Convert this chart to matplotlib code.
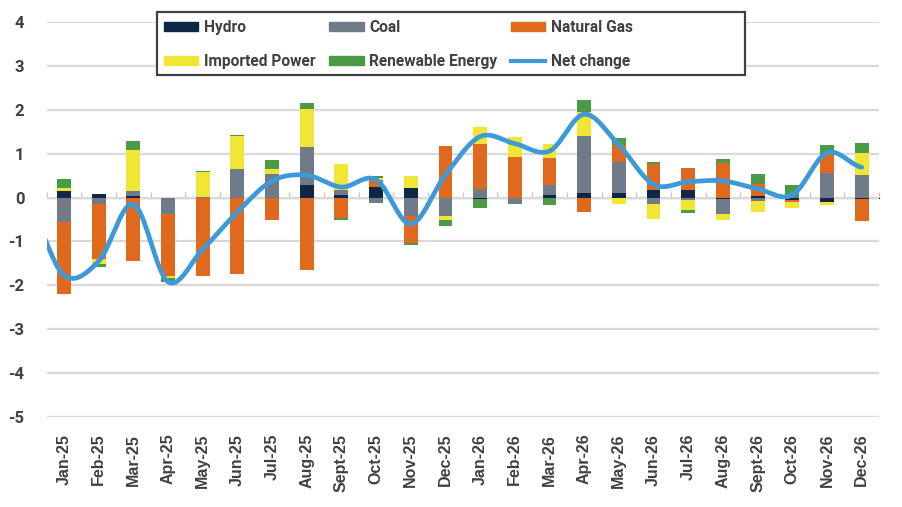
import numpy as np
import matplotlib
matplotlib.use('Agg')
from matplotlib import pyplot as plt
from matplotlib.patches import Patch, Rectangle
from matplotlib.lines import Line2D

plt.rcParams['axes.unicode_minus'] = False

months = ['Jan-25', 'Feb-25', 'Mar-25', 'Apr-25', 'May-25', 'Jun-25', 'Jul-25', 'Aug-25',
          'Sept-25', 'Oct-25', 'Nov-25', 'Dec-25', 'Jan-26', 'Feb-26', 'Mar-26', 'Apr-26',
          'May-26', 'Jun-26', 'Jul-26', 'Aug-26', 'Sept-26', 'Oct-26', 'Nov-26', 'Dec-26']

hydro = [0.14, 0.09, 0.03, 0.0, 0.0, 0.0, 0.0, 0.29, 0.06, 0.24, 0.22, 0.0,
         -0.03, 0.0, 0.07, 0.11, 0.11, 0.17, 0.17, -0.03, 0.04, -0.05, -0.09, -0.03]
coal = [-0.55, -0.14, 0.12, -0.38, 0.02, 0.65, 0.54, 0.86, 0.12, -0.13, -0.42, -0.42,
        0.20, -0.14, 0.22, 1.30, 0.70, -0.14, -0.05, -0.35, -0.08, 0.04, 0.55, 0.52]
gas = [-1.65, -1.26, -1.45, -1.41, -1.78, -1.75, -0.52, -1.66, -0.47, 0.15, -0.62, 1.17,
       1.02, 0.93, 0.62, -0.33, 0.38, 0.60, 0.51, 0.78, 0.28, -0.04, 0.45, -0.50]
imported = [0.07, -0.11, 0.93, -0.05, 0.56, 0.75, 0.11, 0.87, 0.59, 0.05, 0.27, -0.10,
            0.39, 0.44, 0.32, 0.53, -0.14, -0.34, -0.23, -0.12, -0.24, -0.14, -0.09, 0.49]
renewable = [0.22, -0.07, 0.20, -0.08, 0.02, 0.02, 0.20, 0.13, -0.05, 0.05, -0.04, -0.13,
             -0.20, 0.0, -0.16, 0.28, 0.17, 0.05, -0.06, 0.10, 0.22, 0.24, 0.19, 0.23]
net = [-1.77, -1.45, -0.15, -1.92, -1.18, -0.33, 0.38, 0.51, 0.24, 0.41, -0.60, 0.52,
       1.39, 1.23, 1.06, 1.90, 1.20, 0.30, 0.36, 0.38, 0.20, 0.06, 1.02, 0.69]
net_dec24 = -0.25   # month before the window, line runs in from the left edge

series = [('Hydro', hydro, '#0e2746'),
          ('Coal', coal, '#6f7b88'),
          ('Natural Gas', gas, '#e1691d'),
          ('Imported Power', imported, '#f0e633'),
          ('Renewable Energy', renewable, '#4b9a45')]
line_col = '#3c9ad9'
txt_col = '#404040'


def smooth(x, y, n=20):
    # excel style smoothed line (catmull-rom)
    x = np.asarray(x, float)
    y = np.asarray(y, float)
    xs, ys = [], []
    for i in range(len(x) - 1):
        p0 = y[i - 1] if i > 0 else y[i]
        p3 = y[i + 2] if i + 2 < len(y) else y[i + 1]
        p1, p2 = y[i], y[i + 1]
        t = np.linspace(0, 1, n, endpoint=False)
        yy = 0.5 * ((2 * p1) + (-p0 + p2) * t + (2 * p0 - 5 * p1 + 4 * p2 - p3) * t ** 2
                    + (-p0 + 3 * p1 - 3 * p2 + p3) * t ** 3)
        xs.append(x[i] + (x[i + 1] - x[i]) * t)
        ys.append(yy)
    xs.append([x[-1]])
    ys.append([y[-1]])
    return np.concatenate(xs), np.concatenate(ys)


fig = plt.figure(figsize=(9.03, 5.07), dpi=100)
ax = fig.add_axes([0.0516, 0.1775, 0.9218, 0.7790])

xx = np.arange(len(months))
pos_b = np.zeros(len(months))
neg_b = np.zeros(len(months))
for name, vals, col in series:
    v = np.array(vals)
    bottom = np.where(v >= 0, pos_b, neg_b)
    ax.bar(xx, v, 0.40, bottom=bottom, color=col, zorder=3)
    pos_b += np.where(v >= 0, v, 0)
    neg_b += np.where(v < 0, v, 0)

lx, ly = smooth(np.r_[-1, xx], np.r_[net_dec24, net])
ax.plot(lx, ly, color=line_col, lw=3.4, zorder=4, solid_capstyle='round')

ax.set_xlim(-0.5, len(months) - 0.5)
ax.set_ylim(-5, 4)
ax.set_yticks(range(-5, 5))
ax.yaxis.grid(True, color='#d9d9d9', lw=1.6, zorder=0)
ax.set_axisbelow(True)
for s in ax.spines.values():
    s.set_visible(False)
ax.tick_params(axis='y', length=0, pad=16, labelsize=12, labelcolor=txt_col)
for lab in ax.get_yticklabels():
    lab.set_fontfamily('Roboto')
    lab.set_fontweight('bold')
ax.set_xticks(xx)
ax.set_xticklabels(months, rotation=90, fontsize=11.5, fontweight='bold',
                   fontfamily='Liberation Sans', color=txt_col)
ax.tick_params(axis='x', length=0, pad=12)

# category axis crossing at zero
zero_ax = ax.secondary_xaxis(5 / 9)
zero_ax.set_xticks(np.arange(-0.5, len(months), 1.0))
zero_ax.set_xticklabels([])
zero_ax.tick_params(axis='x', direction='out', length=4, width=1, color='#c8c8c8')
zero_ax.spines['bottom'].set_color('#c8c8c8')
zero_ax.spines['bottom'].set_linewidth(1.6)

# legend box (excel keeps fixed column widths, so frame drawn separately)
box = Rectangle((157 / 903, 1 - 75 / 507), 588 / 903, 63 / 507, transform=fig.transFigure,
                facecolor='white', edgecolor='#404040', lw=1.6, zorder=4)
fig.patches.append(box)

handles = [Patch(color=c) for _, _, c in series] + [Line2D([], [], color=line_col, lw=3)]
labels = [n for n, _, _ in series] + ['Net change']
order = [0, 3, 1, 4, 2, 5]
leg = fig.legend([handles[i] for i in order], [labels[i] for i in order], ncol=3,
                 loc='upper left', bbox_to_anchor=(157 / 903, 1 - 13 / 507),
                 prop={'family': 'Roboto', 'weight': 'bold', 'size': 11.2},
                 frameon=False, handlelength=2.2, handleheight=0.5, handletextpad=0.35,
                 columnspacing=0.9, labelspacing=1.25, borderpad=0.45, borderaxespad=0)
leg.set_zorder(5)
for t in leg.get_texts():
    t.set_color(txt_col)

fig.savefig('out.png', dpi=100)
